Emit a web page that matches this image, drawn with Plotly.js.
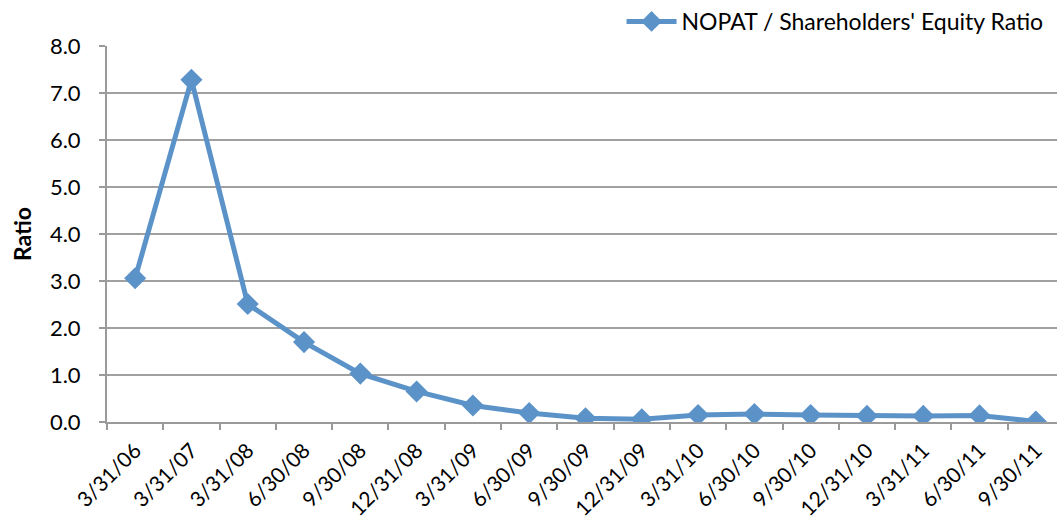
<!DOCTYPE html>
<html>
<head>
<meta charset="utf-8">
<script src="https://cdn.plot.ly/plotly-3.0.1.min.js"></script>
<style>html,body{margin:0;padding:0;background:#fff;}#chart{width:1057px;height:527px;}</style>
</head>
<body>
<div id="chart"></div>
<script>
const categories = ["3/31/06","3/31/07","3/31/08","6/30/08","9/30/08","12/31/08","3/31/09","6/30/09","9/30/09","12/31/09","3/31/10","6/30/10","9/30/10","12/31/10","3/31/11","6/30/11","9/30/11"];
const ratioValues = [3.06, 7.28, 2.51, 1.70, 1.03, 0.65, 0.35, 0.19, 0.08, 0.06, 0.15, 0.17, 0.15, 0.13, 0.13, 0.14, 0.01];
const seriesName = "NOPAT / Shareholders' Equity Ratio";
const yTickValues = [0, 1, 2, 3, 4, 5, 6, 7, 8];
const yTickLabels = ["0.0", "1.0", "2.0", "3.0", "4.0", "5.0", "6.0", "7.0", "8.0"];

const blue = "#5B93C9";
const font = "Lato, 'Open Sans', sans-serif";

Plotly.newPlot("chart", [{
  type: "scatter",
  mode: "lines+markers",
  x: categories,
  y: ratioValues,
  name: seriesName,
  line: {color: blue, width: 5},
  marker: {symbol: "diamond", size: 17, color: blue},
  showlegend: true
}], {
  width: 1057, height: 527,
  margin: {l: 107, r: 0, t: 46, b: 105},
  paper_bgcolor: "#fff", plot_bgcolor: "#fff",
  font: {family: font, size: 22, color: "#000"},
  showlegend: true,
  legend: {x: 0.992, xanchor: "right", xref: "container", y: 1, yanchor: "top", yref: "container", orientation: "h",
           font: {family: font, size: 23, color: "#000"}, bgcolor: "rgba(0,0,0,0)", itemwidth: 50},
  xaxis: {
    type: "category", range: [-0.5, 16.376],
    showgrid: false, zeroline: false,
    showline: true, linecolor: "#9a9a9a", linewidth: 2,
    ticks: "outside", tickson: "boundaries", ticklen: 6, tickcolor: "#9a9a9a", tickwidth: 2,
    tickangle: -45, ticklabelstandoff: 6,
    tickfont: {family: font, size: 21, color: "#000"}
  },
  yaxis: {
    range: [0, 8], tickvals: yTickValues, ticktext: yTickLabels,
    showgrid: true, gridcolor: "#a0a0a0", gridwidth: 2, zeroline: false,
    showline: true, linecolor: "#9a9a9a", linewidth: 2,
    ticks: "outside", ticklen: 6, tickcolor: "#9a9a9a", tickwidth: 2,
    ticklabelstandoff: 14,
    tickfont: {family: font, size: 22, color: "#000"},
    title: {text: "<b>Ratio</b>", font: {family: font, size: 23, color: "#000"}, standoff: 12}
  }
}, {displayModeBar: false, staticPlot: true});
</script>
</body>
</html>
